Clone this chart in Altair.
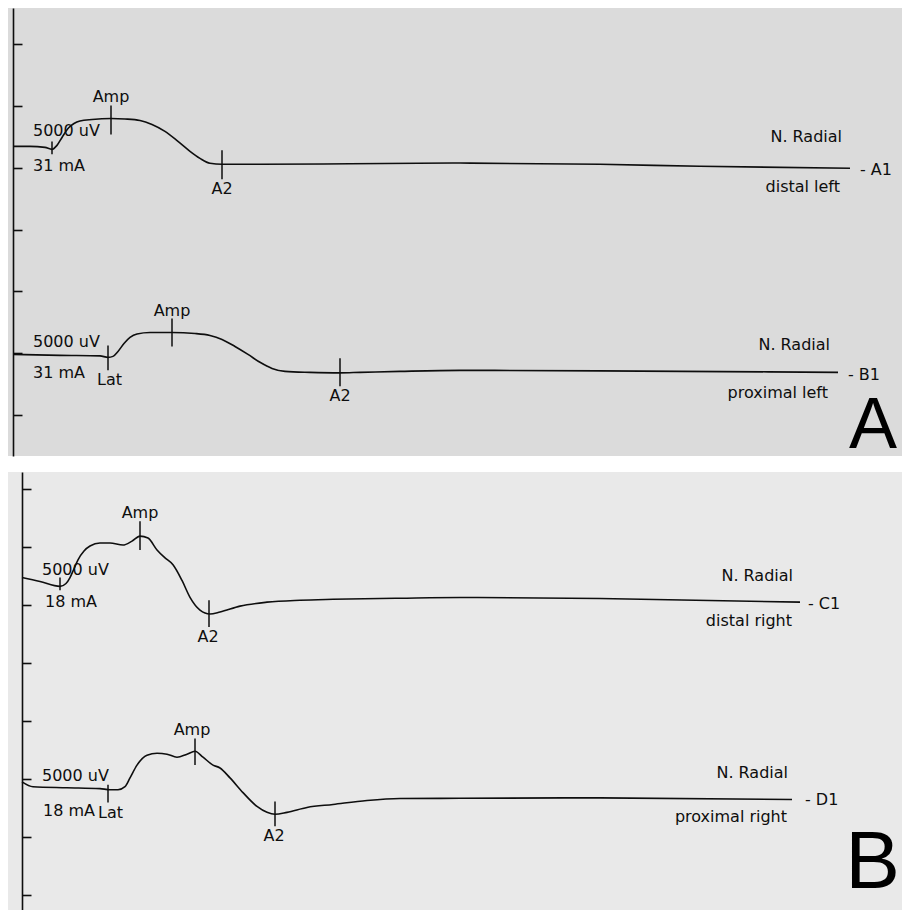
import altair as alt
import pandas as pd

# ---------------- data (time in ms, amplitude in mV relative to trace baseline) ----------------
A1_T = [0, 0.85, 1.6, 1.95, 2.2, 2.45, 2.75, 3.05, 3.35, 3.95, 4.9, 5.6, 6.35, 6.95, 7.6, 8.25,
        8.85, 9.35, 9.85, 10.45, 12.35, 16.85, 22.35, 29.35, 34.35, 41.85]
A1_R = [0, 0, -0.08, -0.24, 0.08, 0.72, 1.45, 1.85, 2.05, 2.17, 2.25, 2.21, 2.09, 1.77, 1.21, 0.40,
        -0.40, -0.97, -1.37, -1.45, -1.45, -1.41, -1.35, -1.45, -1.61, -1.77]

B1_T = [0, 2.35, 4.35, 4.75, 5.0, 5.25, 5.55, 5.85, 6.2, 6.85, 7.95, 9.1, 9.85, 10.45, 11.1, 11.75,
        12.35, 12.95, 13.6, 14.85, 16.35, 17.35, 19.35, 22.35, 29.35, 41.25]
B1_R = [0, -0.08, -0.12, -0.24, -0.16, 0.24, 0.88, 1.37, 1.65, 1.77, 1.77, 1.69, 1.53, 1.21, 0.64, 0,
        -0.64, -1.13, -1.37, -1.45, -1.49, -1.45, -1.37, -1.29, -1.33, -1.45]

C1_T = [0.45, 1.35, 2.35, 2.65, 2.85, 3.05, 3.25, 3.55, 3.85, 4.35, 4.85, 5.5, 5.95, 6.35, 6.75, 7.2,
        7.6, 8.0, 8.45, 8.85, 9.35, 9.85, 10.35, 11.35, 12.7, 14.35, 16.0, 19.35, 22.35, 29.35, 39.35]
C1_R = [0, -0.34, -0.76, -0.51, 0, 0.76, 1.53, 2.29, 2.72, 2.97, 2.97, 2.80, 3.14, 3.57, 3.40, 2.38,
        1.70, 1.10, -0.25, -1.70, -2.80, -3.14, -2.97, -2.46, -2.12, -1.95, -1.87, -1.78, -1.72, -1.80, -2.12]

D1_T = [0.45, 1.0, 2.7, 4.35, 4.85, 5.25, 5.6, 5.85, 6.2, 6.7, 7.2, 7.7, 8.2, 8.7, 9.1, 9.5, 10.0,
        10.35, 10.85, 11.5, 12.2, 12.7, 13.1, 13.7, 14.7, 16.0, 17.7, 19.35, 22.35, 29.35, 38.95]
D1_R = [0, -0.42, -0.51, -0.59, -0.68, -0.68, -0.42, 0.34, 1.44, 2.29, 2.46, 2.38, 2.12, 2.38, 2.63,
        2.12, 1.44, 1.19, 0.34, -0.93, -2.12, -2.63, -2.80, -2.63, -2.21, -1.95, -1.61, -1.44, -1.42,
        -1.38, -1.53]

# trace display offsets (mV)
OFFSETS = {"A1": 21.72, "B1": 4.91, "C1": 27.36, "D1": 9.77}

# cursor markers: Lat, Amp, A2  (time, centre relative to baseline, half length)
MARK_T = {"A1": [1.95, 4.9, 10.45], "B1": [4.75, 7.95, 16.35],
          "C1": [2.35, 6.35, 9.8], "D1": [4.75, 9.1, 13.1]}
MARK_C = {"A1": [-0.12, 2.13, -1.49], "B1": [-0.28, 1.77, -1.45],
          "C1": [-0.55, 3.61, -3.10], "D1": [-1.02, 2.59, -2.76]}
MARK_H = {"A1": [0.52, 1.17, 1.17], "B1": [1.0, 1.13, 1.13],
          "C1": [0.55, 1.23, 1.15], "D1": [0.76, 1.15, 1.06]}

Y_TICKS_A = [0, 5, 10, 15, 20, 25, 30]
Y_TICKS_B = [0, 5, 10, 15, 20, 25, 30, 35]

# annotation anchors (time ms, display mV)
LEFT_A = [("5000 uV", 1.0, 22.93), ("31 mA", 1.0, 20.11), ("5000 uV", 1.0, 5.95),
          ("31 mA", 1.0, 3.38), ("Lat", 4.2, 2.82), ("- A1", 42.35, 19.79), ("- B1", 41.75, 3.22)]
CENTER_A = [("Amp", 4.9, 25.74), ("A2", 10.45, 18.26), ("Amp", 7.95, 8.45), ("A2", 16.35, 1.53)]
RIGHT_A = [("N. Radial", 41.45, 22.45), ("distal left", 41.35, 18.42),
           ("N. Radial", 40.85, 5.63), ("proximal left", 40.75, 1.77)]
BIG_A = [("A", 44.2, -2.65)]

LEFT_B = [("5000 uV", 1.45, 28.04), ("18 mA", 1.6, 25.23), ("5000 uV", 1.45, 10.28),
          ("18 mA", 1.5, 7.22), ("Lat", 4.25, 7.05), ("- C1", 39.75, 25.06), ("- D1", 39.6, 8.24)]
CENTER_B = [("Amp", 6.35, 32.88), ("A2", 9.75, 22.26), ("Amp", 8.95, 14.19), ("A2", 13.05, 5.10)]
RIGHT_B = [("N. Radial", 39.0, 27.53), ("distal right", 38.95, 23.62),
           ("N. Radial", 38.75, 10.54), ("proximal right", 38.7, 6.71)]
BIG_B = [("B", 44.35, 0.6)]

TRACES = {"A1": (A1_T, A1_R), "B1": (B1_T, B1_R), "C1": (C1_T, C1_R), "D1": (D1_T, D1_R)}

# ---------------- helpers ----------------
W = 894
X_DOMAIN = [-0.25, 44.45]
INK = "#0e0e0e"


def trace_df(names):
    rows = []
    for n in names:
        ts, rs = TRACES[n]
        for i, (t, r) in enumerate(zip(ts, rs)):
            rows.append({"trace": n, "i": i, "t": t, "v": OFFSETS[n] + r})
    return pd.DataFrame(rows)


def marker_df(names):
    rows = []
    for n in names:
        for t, c, h in zip(MARK_T[n], MARK_C[n], MARK_H[n]):
            rows.append({"trace": n, "t": t, "lo": OFFSETS[n] + c - h, "hi": OFFSETS[n] + c + h})
    return pd.DataFrame(rows)


def label_df(items):
    return pd.DataFrame([{"label": s, "t": t, "v": v} for s, t, v in items])


def panel(names, left, center, right, big, ydom, yticks, axis_pos, fill, height,
          big_font, big_size):
    xs = alt.Scale(domain=X_DOMAIN, nice=False, zero=False)
    ys = alt.Scale(domain=ydom, nice=False, zero=False)
    ax = alt.Axis(orient="right", offset=-(W - axis_pos), values=yticks, labels=False,
                  title=None, grid=False, domainColor=INK, domainWidth=1.6,
                  tickColor=INK, tickWidth=1.6, tickSize=9)
    X = alt.X("t:Q", scale=xs, axis=None)

    lines = alt.Chart(trace_df(names)).mark_line(
        color=INK, strokeWidth=1.6, interpolate="monotone"
    ).encode(x=X, y=alt.Y("v:Q", scale=ys, axis=ax), detail="trace:N", order="i:Q")

    marks = alt.Chart(marker_df(names)).mark_rule(color=INK, strokeWidth=1.5).encode(
        x=X, y=alt.Y("lo:Q", scale=ys, axis=ax), y2="hi:Q")

    def txt(items, align):
        return alt.Chart(label_df(items)).mark_text(
            align=align, baseline="middle", font="DejaVu Sans", fontSize=16, color=INK
        ).encode(x=X, y=alt.Y("v:Q", scale=ys, axis=ax), text="label:N")

    big_txt = alt.Chart(label_df(big)).mark_text(
        align="right", baseline="alphabetic", font=big_font, fontSize=big_size, color="#000"
    ).encode(x=X, y=alt.Y("v:Q", scale=ys, axis=ax), text="label:N")

    return alt.layer(lines, marks, txt(left, "left"), txt(center, "center"),
                     txt(right, "right"), big_txt).properties(
        width=W, height=height, view=alt.ViewBackground(fill=fill, stroke=None))


panel_a = panel(["A1", "B1"], LEFT_A, CENTER_A, RIGHT_A, BIG_A, [-3.3, 32.9], Y_TICKS_A,
                5, "#dbdbdb", 448, "Liberation Sans", 72)
panel_b = panel(["C1", "D1"], LEFT_B, CENTER_B, RIGHT_B, BIG_B, [-1.27, 36.45], Y_TICKS_B,
                14, "#e9e9e9", 438, "Liberation Sans Narrow, Liberation Sans", 82)

chart = alt.vconcat(panel_a, panel_b, spacing=10).properties(padding=0).configure(
    background="white")

chart.save("out.html", embed_options={"renderer": "svg", "actions": False})
